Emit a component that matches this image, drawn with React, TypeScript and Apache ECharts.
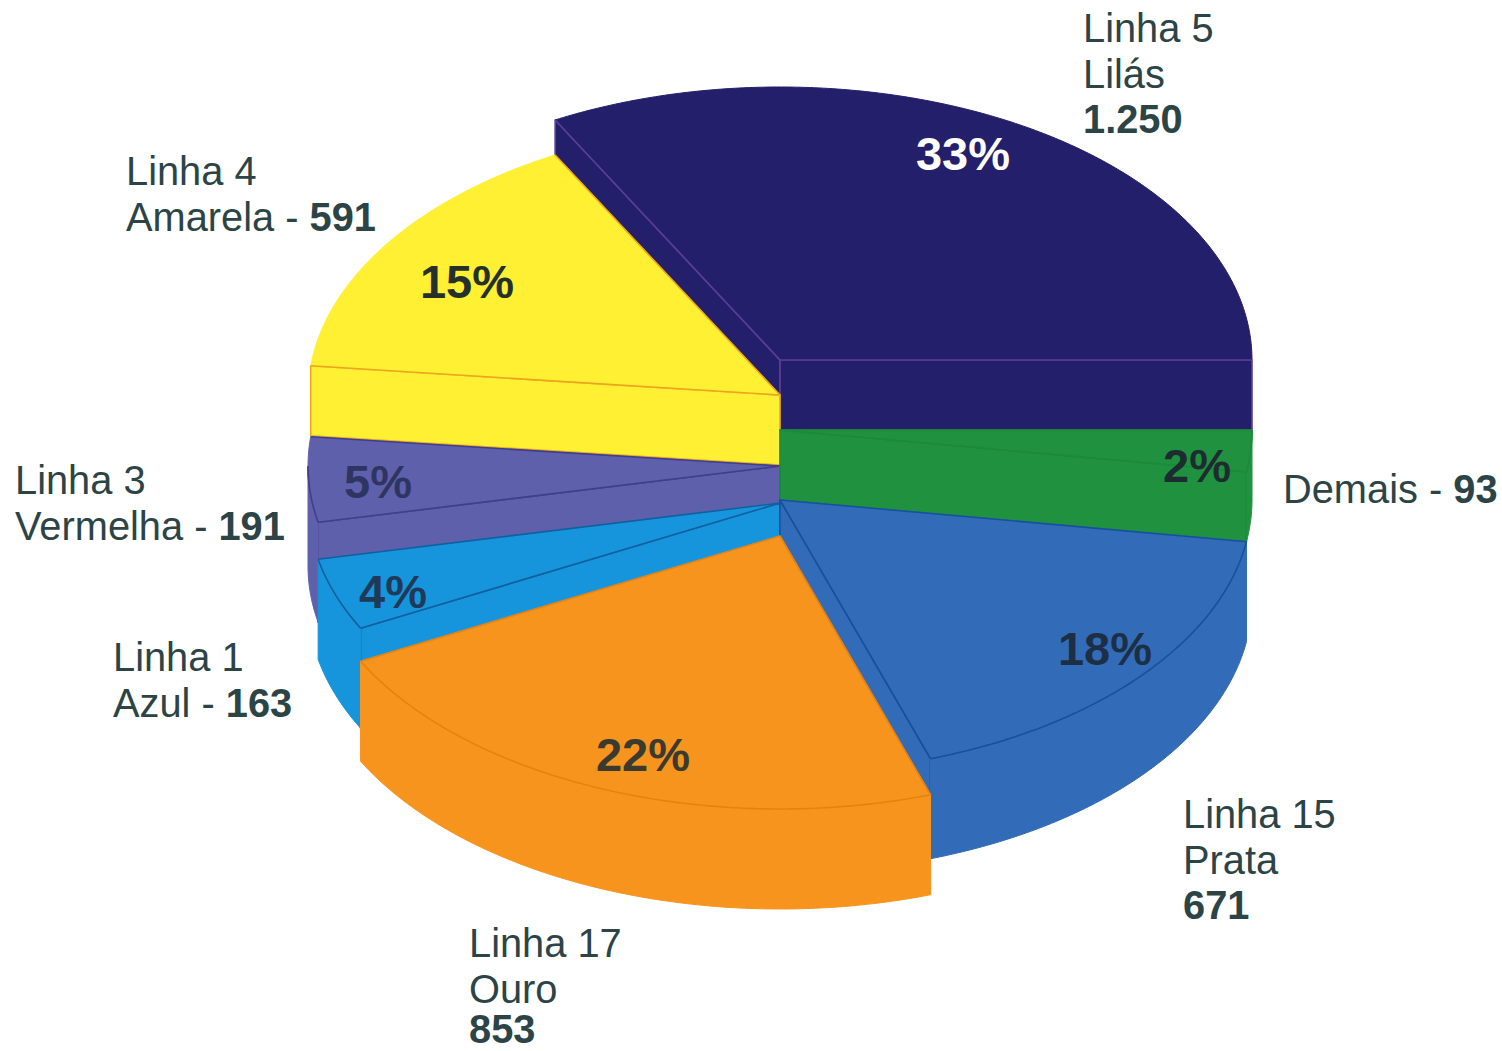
import React, { useEffect, useRef } from "react";
import * as echarts from "echarts";

// Data
const names = ["Linha 5 Lilás", "Demais", "Linha 15 Prata", "Linha 17 Ouro", "Linha 1 Azul", "Linha 3 Vermelha", "Linha 4 Amarela"];
const passengers = [1250, 93, 671, 853, 163, 191, 591];
const percents = ["33%", "2%", "18%", "22%", "4%", "5%", "15%"];

// Presentation (not data)
const CX = 780, RX = 472, RY = 273;
const tops = [360, 430, 500, 536, 503, 466, 395];
const depths = [70, 70, 100, 100, 100, 100, 70];
const fills = ["#241f6b", "#20913f", "#326cb8", "#f7941d", "#1795dc", "#5f60ab", "#fff033"];
const strokes = ["#5a3f96", "#1b8a3a", "#17509f", "#e8820f", "#10609f", "#3f3f8f", "#eda51f"];
const drawOrder = [0, 6, 5, 4, 1, 2, 3];
// small per-boundary drift of the drawn pie, in degrees
const boundaryNudge = [0.4, 0, 0, 0.75, 0, 0, 0, 0.4];
const INK = "#2c4446";
const FONT = "'Liberation Sans', Arial, sans-serif";
const LABEL_SIZE = 39.8;
const LINE = 45.5;

const total = passengers.reduce((a, b) => a + b, 0);

function boundaryAngle(k: number) {
  let before = 0;
  for (let j = 0; j < k; j++) before += passengers[j];
  const full = 2 * Math.PI;
  return (passengers[0] / total) * full - (before / total) * full + (boundaryNudge[k] * Math.PI) / 180;
}

function rim(a: number, cy: number) {
  return [CX + RX * Math.cos(a), cy - RY * Math.sin(a)];
}

function renderSlice(params: any, api: any) {
  const i = drawOrder[params.dataIndex];
  const a0 = boundaryAngle(i);
  const a1 = boundaryAngle(i + 1);
  const top = tops[i], depth = depths[i];
  const plain = { fill: fills[i], stroke: fills[i], lineWidth: 1 };
  const edge = { fill: "none", stroke: strokes[i], lineWidth: 1.6, lineJoin: "round" };
  const children: any[] = [];

  // Cut faces, only those that face the viewer
  const cut = (a: number) => {
    const p = rim(a, top);
    children.push({
      type: "polygon",
      shape: { points: [[CX, top], p, [p[0], p[1] + depth], [CX, top + depth]] },
      style: { ...plain, stroke: strokes[i], lineWidth: 1.6, lineJoin: "round" },
    });
  };
  if (Math.cos(a0) < 0) cut(a0);
  if (Math.cos(a1) > 0) cut(a1);

  // Sampled outline
  const steps = Math.ceil((a0 - a1) / 0.01);
  const arc: number[][] = [];
  const front: number[][] = [];
  for (let k = 0; k <= steps; k++) {
    const a = a0 + ((a1 - a0) * k) / steps;
    const p = rim(a, top);
    arc.push(p);
    if (Math.sin(a) <= 0.001) front.push(p);
  }

  // Outer wall, where it is in front
  if (front.length > 1) {
    const lower = front.map((p) => [p[0], p[1] + depth]).reverse();
    children.push({ type: "polygon", shape: { points: front.concat(lower) }, style: plain });
  }

  // Top face, then its radial edges and front rim
  children.push({ type: "polygon", shape: { points: [[CX, top], ...arc] }, style: plain });
  children.push({
    type: "polyline",
    shape: { points: [arc[0], [CX, top], arc[arc.length - 1]] },
    style: edge,
  });
  if (front.length > 1) {
    children.push({ type: "polyline", shape: { points: front }, style: edge });
  }
  return { type: "group", children };
}

function textLine(text: string, x: number, y: number) {
  return {
    type: "text",
    x,
    y,
    z: 20,
    silent: true,
    style: {
      text,
      font: `${LABEL_SIZE}px ${FONT}`,
      fill: INK,
      align: "left",
      verticalAlign: "middle",
      rich: {
        r: { font: `${LABEL_SIZE}px ${FONT}`, fill: INK },
        b: { font: `bold ${LABEL_SIZE}px ${FONT}`, fill: INK },
      },
    },
  };
}

function label(lines: string[], x: number, y: number) {
  return lines.map((t, k) => textLine(t, x, y + k * LINE));
}

function pct(text: string, x: number, y: number, fill: string) {
  return {
    type: "text",
    x,
    y,
    z: 20,
    silent: true,
    style: { text, font: `bold 47px ${FONT}`, fill, align: "center", verticalAlign: "middle" },
  };
}

export default function App() {
  const ref = useRef<HTMLDivElement>(null);
  useEffect(() => {
    if (!ref.current) return;
    const chart = echarts.init(ref.current, undefined, { renderer: "svg" });
    chart.setOption({
      animation: false,
      backgroundColor: "#ffffff",
      series: [
        {
          type: "custom",
          coordinateSystem: "none",
          silent: true,
          clip: false,
          renderItem: renderSlice,
          data: drawOrder.map((i) => [names[i], passengers[i]]),
          encode: { value: 1 },
        },
      ],
      graphic: [
        ...label(["Linha 5", "Lilás", "{b|1.250}"], 1083, 28),
        ...label(["Linha 4", "{r|Amarela - }{b|591}"], 126, 171),
        ...label(["Linha 3", "{r|Vermelha - }{b|191}"], 15, 480),
        ...label(["Linha 1", "{r|Azul - }{b|163}"], 113, 657),
        ...label(["{r|Demais - }{b|93}"], 1283, 489),
        ...label(["Linha 15", "Prata", "{b|671}"], 1183, 814),
        ...label(["Linha 17", "Ouro"], 469, 943),
        textLine("{b|853}", 469, 1029),
        pct(percents[0], 963, 153, "#ffffff"),
        pct(percents[1], 1197, 465, "#1d2c30"),
        pct(percents[2], 1105, 648, "#1c2f45"),
        pct(percents[3], 643, 754, "#3a3a30"),
        pct(percents[4], 393, 591, "#1f3a58"),
        pct(percents[5], 378, 481, "#2f3562"),
        pct(percents[6], 467, 281, "#26302a"),
      ],
    });
    return () => chart.dispose();
  }, []);
  return <div ref={ref} style={{ position: "absolute", left: 0, top: 0, width: 1502, height: 1051 }} />;
}
